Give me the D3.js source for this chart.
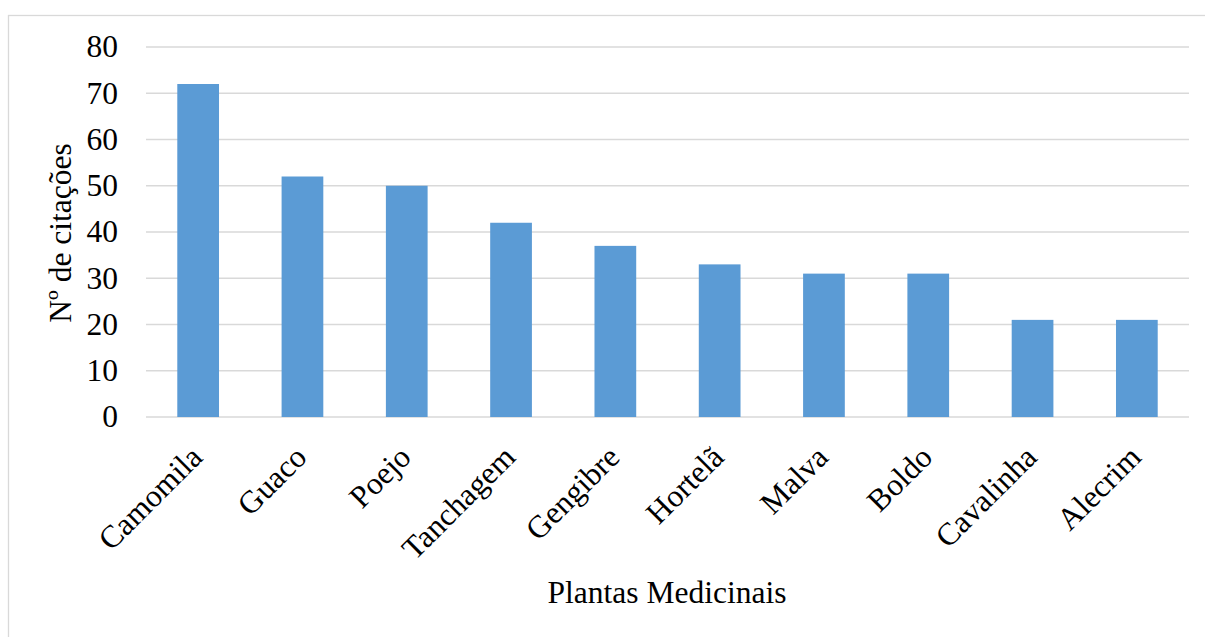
<!DOCTYPE html>
<html>
<head>
<meta charset="utf-8">
<script src="https://cdn.jsdelivr.net/npm/d3@7"></script>
<style>
  html, body { margin: 0; padding: 0; background: #fff; }
  svg { display: block; }
  text { font-family: "Liberation Serif", "Times New Roman", serif; fill: #000; }
</style>
</head>
<body>
<svg id="chart" width="1205" height="637"></svg>
<script>
// Citações por planta medicinal
const plantas = ["Camomila", "Guaco", "Poejo", "Tanchagem", "Gengibre", "Hortelã", "Malva", "Boldo", "Cavalinha", "Alecrim"];
const citacoes = [72, 52, 50, 42, 37, 33, 31, 31, 21, 21];
const yTicks = [0, 10, 20, 30, 40, 50, 60, 70, 80];

const svg = d3.select("#chart");
const fontSize = 31.5;

// outer chart frame
svg.append("rect")
  .attr("x", 8.5).attr("y", 15.5)
  .attr("width", 1205).attr("height", 637)
  .attr("fill", "none").attr("stroke", "#d9d9d9").attr("stroke-width", 1.3);

const plot = { left: 146, right: 1189, top: 47, bottom: 417 };

const x = d3.scaleBand()
  .domain(plantas)
  .range([plot.left, plot.right])
  .paddingInner(0.6)
  .paddingOuter(0.3);

const y = d3.scaleLinear()
  .domain([0, 80])
  .range([plot.bottom, plot.top]);

// horizontal gridlines
svg.append("g")
  .selectAll("line")
  .data(yTicks)
  .join("line")
  .attr("x1", plot.left).attr("x2", plot.right)
  .attr("y1", d => y(d)).attr("y2", d => y(d))
  .attr("stroke", "#d9d9d9").attr("stroke-width", 1.3);

// y tick labels
svg.append("g")
  .selectAll("text")
  .data(yTicks)
  .join("text")
  .attr("x", 118)
  .attr("y", d => y(d))
  .attr("dy", "0.33em")
  .attr("text-anchor", "end")
  .style("font-size", fontSize + "px")
  .text(d => d);

// bars
svg.append("g")
  .selectAll("rect")
  .data(plantas)
  .join("rect")
  .attr("x", d => x(d))
  .attr("width", x.bandwidth())
  .attr("y", (d, i) => y(citacoes[i]))
  .attr("height", (d, i) => y(0) - y(citacoes[i]))
  .attr("fill", "#5b9bd5");

// category labels, rotated
svg.append("g")
  .selectAll("text")
  .data(plantas)
  .join("text")
  .attr("text-anchor", "end")
  .attr("transform", d => `translate(${x(d) + x.bandwidth() / 2 + 6},${459}) rotate(-45)`)
  .style("font-size", fontSize + "px")
  .text(d => d);

// axis titles
svg.append("text")
  .attr("x", 667).attr("y", 603)
  .attr("text-anchor", "middle")
  .style("font-size", fontSize + "px")
  .text("Plantas Medicinais");

svg.append("text")
  .attr("transform", "translate(71,233) rotate(-90)")
  .attr("text-anchor", "middle")
  .style("font-size", fontSize + "px")
  .text("Nº de citações");
</script>
</body>
</html>
